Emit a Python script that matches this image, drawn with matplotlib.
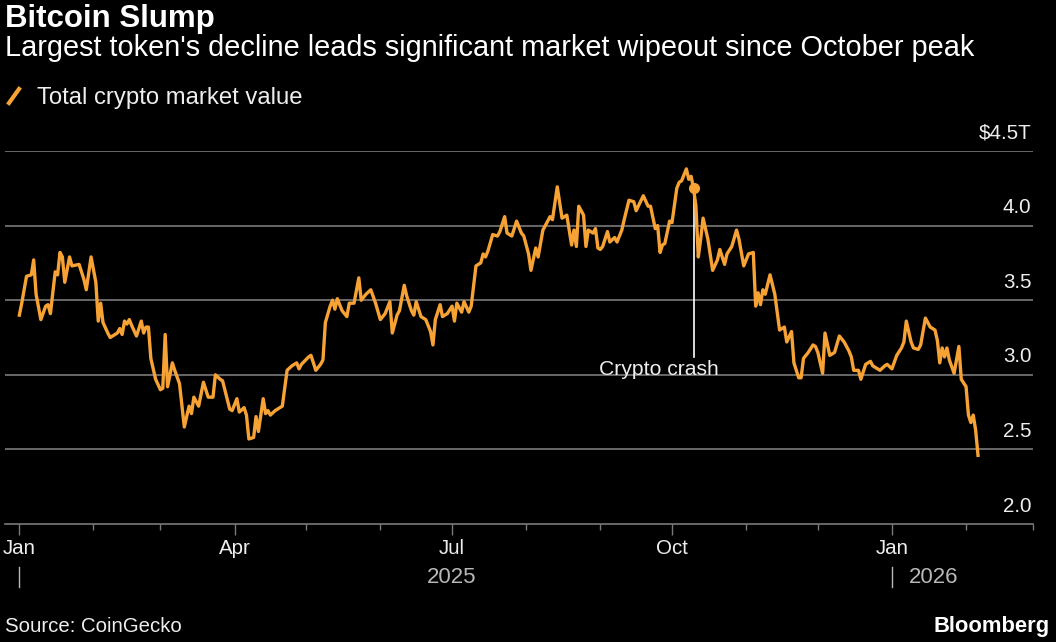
import matplotlib
matplotlib.use("Agg")
import matplotlib.pyplot as plt
import matplotlib.dates as mdates
import matplotlib.transforms as mtransforms
from matplotlib.lines import Line2D
import pandas as pd

plt.rcParams['font.family'] = ['Liberation Sans', 'DejaVu Sans']

# data: day offsets from 1 Jan 2025, total crypto market value in $T
start_date = "2025-01-01"
day_offset = [
    0, 1, 3, 5, 6, 7, 9, 11, 12, 13, 15, 16, 17, 18, 19, 21, 22, 25, 27, 28,
    30, 32, 33, 34, 35, 37, 38, 41, 42, 43, 44, 45, 46, 47, 49, 51, 52, 53, 54, 55,
    57, 59, 60, 61, 62, 64, 65, 67, 69,
    71, 72, 73, 75, 77, 79, 81, 82, 84, 85, 88, 89, 91, 92, 94, 95, 96, 98, 99, 100,
    102, 103, 104, 105, 107, 110, 112, 114, 116, 117, 118, 121, 122, 124, 126, 127, 128, 130, 131, 132,
    133, 135, 137, 138, 140, 142, 143, 145, 147, 149,
    151, 153, 155, 156, 158, 159, 161, 162, 164, 165, 166, 168, 170, 172, 173, 174, 176, 177, 179, 181,
    182, 183, 185, 186, 188, 189, 191, 193, 194, 195, 196, 198, 200, 201, 203, 204, 206, 208, 210, 211,
    213, 214, 216, 217, 219, 222, 223, 225, 227, 229,
    231, 232, 233, 234, 236, 237, 238, 240, 241, 242, 243, 244, 246, 247, 249, 250, 252, 253, 255, 257,
    258, 261, 263, 264, 266, 267, 268, 269, 270, 272, 273, 275, 276, 277, 279, 280, 281, 282, 283, 284,
    285, 286, 288, 290, 292, 293, 295, 296, 298, 300,
    301, 303, 305, 307, 308, 309, 310, 311, 312, 314, 316, 318, 320, 321, 323, 324, 326, 327, 328, 330,
    332, 333, 334, 336, 337, 339, 341, 343, 345, 347, 348, 349, 351, 352, 354, 356, 357, 360, 362, 363,
    365, 367, 369, 370, 371, 373, 374, 376, 377, 379, 381, 383, 384, 385, 386, 387, 388, 389, 391, 392,
    393, 394, 396, 397, 398, 399, 400, 401,
]
market_value = [
    3.40, 3.48, 3.66, 3.67, 3.77, 3.54, 3.37, 3.46, 3.47, 3.41, 3.69, 3.67, 3.82, 3.79, 3.62, 3.79, 3.73, 3.74, 3.64, 3.57,
    3.79, 3.62, 3.36, 3.48, 3.35, 3.28, 3.25, 3.28, 3.31, 3.27, 3.36, 3.34, 3.37, 3.33, 3.26, 3.36, 3.28, 3.32, 3.32, 3.11,
    2.97, 2.90, 2.91, 3.27, 2.92, 3.08, 3.03, 2.94, 2.65,
    2.79, 2.74, 2.85, 2.79, 2.95, 2.85, 2.85, 3.00, 2.97, 2.96, 2.77, 2.76, 2.84, 2.75, 2.78, 2.73, 2.57, 2.58, 2.72, 2.62,
    2.84, 2.74, 2.76, 2.73, 2.76, 2.79, 3.03, 3.06, 3.08, 3.04, 3.07, 3.12, 3.13, 3.03, 3.07, 3.10, 3.35, 3.46, 3.50, 3.44,
    3.51, 3.43, 3.39, 3.48, 3.48, 3.65, 3.50, 3.54, 3.57, 3.48,
    3.37, 3.41, 3.49, 3.28, 3.40, 3.43, 3.60, 3.53, 3.43, 3.40, 3.49, 3.39, 3.37, 3.29, 3.20, 3.37, 3.47, 3.39, 3.41, 3.46,
    3.36, 3.48, 3.42, 3.49, 3.42, 3.46, 3.73, 3.75, 3.81, 3.79, 3.83, 3.94, 3.93, 3.96, 4.06, 3.95, 3.93, 4.03, 3.95, 3.93,
    3.81, 3.70, 3.85, 3.79, 3.97, 4.06, 4.04, 4.26, 4.05, 4.07,
    3.87, 3.97, 3.86, 4.13, 4.07, 3.86, 3.97, 3.95, 3.98, 3.85, 3.84, 3.86, 3.96, 3.89, 3.92, 3.89, 3.97, 4.04, 4.17, 4.16,
    4.10, 4.20, 4.13, 4.13, 3.98, 4.00, 3.82, 3.87, 3.88, 4.03, 4.02, 4.25, 4.29, 4.30, 4.38, 4.31, 4.33, 4.25, 4.13, 3.79,
    3.91, 4.05, 3.91, 3.70, 3.77, 3.84, 3.74, 3.81, 3.86, 3.97,
    3.91, 3.73, 3.81, 3.82, 3.46, 3.55, 3.47, 3.57, 3.54, 3.67, 3.54, 3.30, 3.32, 3.22, 3.29, 3.08, 2.98, 2.98, 3.11, 3.15,
    3.20, 3.19, 3.15, 3.01, 3.28, 3.13, 3.15, 3.26, 3.22, 3.16, 3.12, 3.03, 3.03, 2.97, 3.07, 3.09, 3.06, 3.03, 3.06, 3.07,
    3.04, 3.13, 3.18, 3.22, 3.36, 3.22, 3.18, 3.17, 3.20, 3.38, 3.32, 3.30, 3.23, 3.08, 3.18, 3.12, 3.18, 3.10, 3.01, 3.10,
    3.19, 2.97, 2.92, 2.73, 2.68, 2.73, 2.63, 2.46,
]
y_ticks = [2.0, 2.5, 3.0, 3.5, 4.0, 4.5]
y_labels = ["2.0", "2.5", "3.0", "3.5", "4.0", "$4.5T"]
crash_date = "2025-10-10"
crash_label = "Crypto crash"
series_name = "Total crypto market value"

assert len(day_offset) == len(market_value)
s = pd.Series(market_value,
              index=pd.Timestamp(start_date) + pd.to_timedelta(day_offset, unit="D"))

BG = "black"
ORANGE = "#f7a234"
GRID = "#7a7a7a"
TXT = "#eeeeee"
SUB = "#b8b8b8"

fig = plt.figure(figsize=(10.56, 6.42), dpi=100, facecolor=BG)
ax = fig.add_axes([5 / 1056, 118 / 642, 1028 / 1056, 373 / 642])
ax.set_facecolor(BG)

ax.plot(s.index, s.values, color=ORANGE, lw=2.4, solid_joinstyle="round", zorder=3)

# crash annotation
cd = pd.Timestamp(crash_date)
cv = s.loc[cd]
ax.plot([cd], [cv], "o", color=ORANGE, ms=7, zorder=4)
ax.plot([cd, cd], [3.12, cv], color="white", lw=1.2, zorder=2)
ax.text(cd - pd.Timedelta(days=14.5), 3.0, crash_label, color=TXT, fontsize=15.2,
        ha="center", va="baseline", zorder=5)

ax.set_ylim(2.0, 4.5)
ax.set_xlim(pd.Timestamp(start_date) - pd.Timedelta(days=6),
            pd.Timestamp(start_date) + pd.Timedelta(days=424))

for v in y_ticks[1:]:
    ax.axhline(v, color=GRID, lw=1.2, zorder=1)
ax.set_yticks([])
for v, lab in zip(y_ticks, y_labels):
    ax.annotate(lab, xy=(1, v), xycoords=("axes fraction", "data"),
                xytext=(-1, 6), textcoords="offset points",
                ha="right", va="bottom", color=TXT, fontsize=14.8)

for sp in ["top", "left", "right"]:
    ax.spines[sp].set_visible(False)
ax.spines["bottom"].set_color(GRID)
ax.spines["bottom"].set_linewidth(1.2)

ax.xaxis.set_major_locator(mdates.MonthLocator(bymonth=[1, 4, 7, 10]))
ax.xaxis.set_minor_locator(mdates.MonthLocator())
ax.xaxis.set_major_formatter(mdates.DateFormatter("%b"))
ax.tick_params(axis="x", which="major", length=8, width=1, color=GRID,
               labelcolor=TXT, labelsize=14.8, pad=3)
ax.tick_params(axis="x", which="minor", length=4.5, width=1, color=GRID)

# year row
trans = mtransforms.blended_transform_factory(ax.transData, ax.transAxes)
for d in ["2025-01-01", "2026-01-01"]:
    ax.plot([pd.Timestamp(d)] * 2, [-0.115, -0.17], color=SUB, lw=1,
            transform=trans, clip_on=False)
ax.text(pd.Timestamp("2025-07-01"), -0.157, "2025", transform=trans, color=SUB,
        fontsize=16, ha="center", va="baseline")
ax.text(pd.Timestamp("2026-01-01") + pd.Timedelta(days=7), -0.157, "2026",
        transform=trans, color=SUB, fontsize=16, ha="left", va="baseline")

# titles
fig.text(5 / 1056, 1 - 27 / 642, "Bitcoin Slump", color="white", fontsize=22.5,
         fontweight="bold", va="baseline")
fig.text(5 / 1056, 1 - 56 / 642, "Largest token's decline leads significant market wipeout since October peak",
         color="white", fontsize=20.8, va="baseline")
fig.add_artist(Line2D([9 / 1056, 19 / 1056], [1 - 103 / 642, 1 - 89 / 642],
                      color=ORANGE, lw=3, transform=fig.transFigure))
fig.text(37 / 1056, 1 - 104 / 642, series_name, color=TXT, fontsize=17.2, va="baseline")

fig.text(5 / 1056, 1 - 632 / 642, "Source: CoinGecko", color=TXT, fontsize=14.7, va="baseline")
fig.text(1050 / 1056, 1 - 632 / 642, "Bloomberg", color="white", fontsize=15.8,
         fontweight="bold", ha="right", va="baseline")

fig.savefig("out.png", dpi=100, facecolor=BG)
